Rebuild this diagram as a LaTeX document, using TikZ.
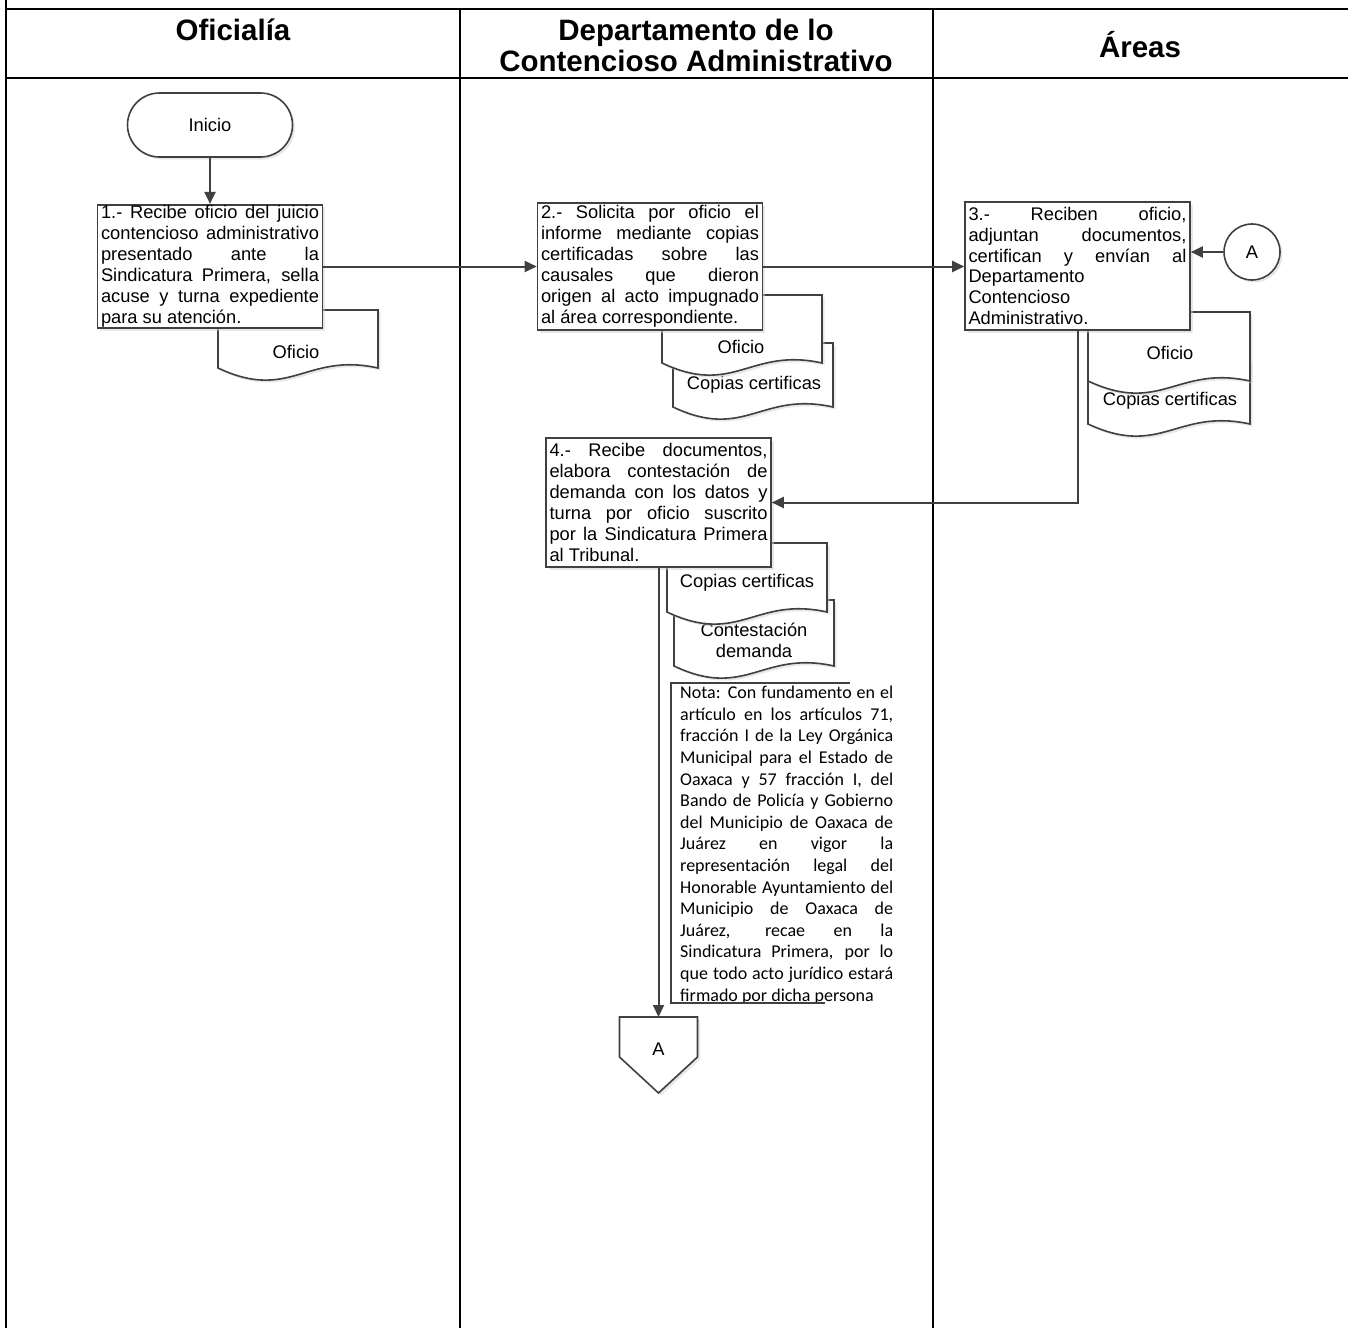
\documentclass[tikz,border=0pt]{standalone}
\usepackage{fontspec}
\setmainfont{Liberation Sans}
\newfontfamily\notafont{Carlito}
\usetikzlibrary{arrows.meta, calc, shadows}

\definecolor{ink}{RGB}{64,64,64}

\newcommand{\boxfont}{\fontsize{18.3}{20.9}\selectfont\tolerance=10000\hbadness=10000\hyphenpenalty=10000\relax}
\newcommand{\notefont}{\notafont\fontsize{18}{21.6}\selectfont\tolerance=10000\hbadness=10000\hyphenpenalty=10000\relax}
% document symbol: x1, top, x2, bottom of the wave
\newcommand{\docshape}[4]{%
  \draw[docline] (#1,#2) -- (#3,#2) -- (#3,#4)
    .. controls ({#3-0.45*(#3-#1)},{#4-16}) and ({#1+0.45*(#3-#1)},{#4+34}) .. (#1,#4) -- cycle;}

\begin{document}
\begin{tikzpicture}[x=1pt, y=-1pt,
  font=\boxfont,
  lane/.style={draw=black, line width=1.7pt},
  laneedge/.style={draw=black, line width=2.4pt},
  hdr/.style={font=\fontsize{29.5}{31}\selectfont\bfseries, align=center},
  softshadow/.style={drop shadow={shadow xshift=2.5pt, shadow yshift=-2.5pt, fill=black!18}},
  stepbox/.style={draw=ink, line width=1.6pt, fill=white, softshadow, text width=218pt,
    inner xsep=3.5pt, inner ysep=1pt, align=justify},
  termbox/.style={draw=ink, line width=1.6pt, fill=white, softshadow, rounded corners=32pt,
    minimum width=165pt, minimum height=64pt},
  docline/.style={draw=ink, line width=1.6pt, fill=white, softshadow},
  doctext/.style={align=center, inner sep=0pt},
  link/.style={draw=ink, line width=2pt, -{Triangle[length=12pt, width=11pt]}}
]
\useasboundingbox (0,0) rectangle (1348,1328);

% --- lanes and headers ---
\draw[laneedge] (6,0) -- (6,1328);
\draw[laneedge] (6,9) -- (1348,9);
\draw[laneedge] (6,78) -- (1348,78);
\draw[lane] (460,9) -- (460,1328);
\draw[lane] (933,9) -- (933,1328);

\node[hdr] (hOfi) at (233,30) {Oficialía};
\node[hdr] (hDep) at (696,45.5) {Departamento de lo\\Contencioso Administrativo};
\node[hdr] (hAre) at (1140,45) {Áreas};

% --- documents (behind the steps) ---
\docshape{218}{310}{378}{368}
\node[doctext] (d1) at (296,352) {Oficio};

\docshape{673}{343}{833}{407}
\node[doctext] (d2b) at (754,385) {Copias certificas};
\docshape{662}{295}{822}{363}
\node[doctext] (d2a) at (741,347) {Oficio};

\docshape{1088}{360}{1250}{424}
\node[doctext] (d3b) at (1170,401) {Copias certificas};
\docshape{1088}{312}{1250}{381}
\node[doctext] (d3a) at (1170,353) {Oficio};

\docshape{674}{600}{834}{666}
\node[doctext] (d4b) at (754,640) {Contestación\\demanda};
\docshape{667}{543}{827}{612}
\node[doctext] (d4a) at (747,583) {Copias certificas};

% --- steps ---
\node[termbox] (ini) at (210,125) {Inicio};

\node[stepbox, minimum height=123pt] (b1) at (210,266.5)
  {1.- Recibe oficio del juicio\linebreak contencioso administrativo\linebreak
   presentado ante la\linebreak Sindicatura Primera, sella\linebreak
   acuse y turna expediente\linebreak para su atención.};

\node[stepbox, minimum height=127pt] (b2) at (650,266.5)
  {2.- Solicita por oficio el\linebreak informe mediante copias\linebreak
   certificadas sobre las\linebreak causales que dieron\linebreak
   origen al acto impugnado\linebreak al área correspondiente.};

\node[stepbox, minimum height=128pt] (b3) at (1077.5,266)
  {3.- Reciben oficio,\linebreak adjuntan documentos,\linebreak
   certifican y envían al\linebreak Departamento\\Contencioso\\Administrativo.};

\node[stepbox, minimum height=129pt] (b4) at (658.5,502.5)
  {4.- Recibe documentos,\linebreak elabora contestación de\linebreak
   demanda con los datos y\linebreak turna por oficio suscrito\linebreak
   por la Sindicatura Primera\linebreak al Tribunal.};

\node[draw=ink, line width=1.6pt, fill=white, softshadow, circle, minimum size=56pt,
  inner sep=0pt] (cA) at (1252,252) {A};

% off-page connector
\coordinate (offtop) at (658.5,1017);
\draw[docline] (offtop) ++(-39,0) -- ++(78,0) -- ++(0,40) -- ++(-39,36) -- ++(-39,-36) -- cycle;
\node (offA) at (658.5,1049) {A};

% --- note ---
\node[inner sep=0pt, anchor=north west, text width=213pt, align=justify, font=\notefont]
  (nota) at (680,686)
  {Nota: Con fundamento en el\linebreak artículo en los artículos 71,\linebreak
   fracción I de la Ley Orgánica\linebreak Municipal para el Estado de\linebreak
   Oaxaca y 57 fracción I, del\linebreak Bando de Policía y Gobierno\linebreak
   del Municipio de Oaxaca de\linebreak Juárez en vigor la\linebreak
   representación legal del\linebreak Honorable Ayuntamiento del\linebreak
   Municipio de Oaxaca de\linebreak Juárez, recae en la\linebreak
   Sindicatura Primera, por lo\linebreak que todo acto jurídico estará\linebreak
   firmado por dicha persona};
\draw[draw=ink, line width=1.6pt] (850,683) -- (671,683) -- (671,1003) -- (825,1003);

% --- flow ---
\draw[link] (ini) -- (b1);
\draw[link] (b1) -- (b2);
\draw[link] (b2.east) -- (b3.west |- b2.east);
\draw[link] (cA) -- (cA -| b3.east);
\draw[link] (b3.south) |- (b4.east);
\draw[link] (b4.south) -- (offtop);

\end{tikzpicture}
\end{document}
